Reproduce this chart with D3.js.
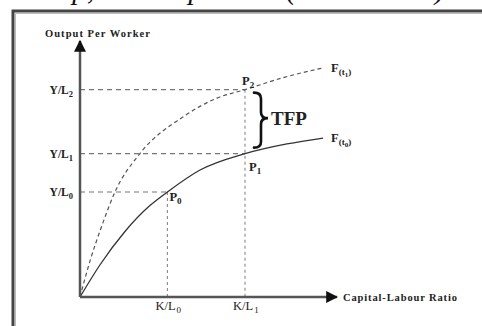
<!DOCTYPE html>
<html>
<head>
<meta charset="utf-8">
<script src="https://cdn.jsdelivr.net/npm/d3@7"></script>
<style>
  html, body { margin: 0; padding: 0; background: #fff; }
  svg { display: block; font-family: "Liberation Serif", "Times New Roman", serif; }
</style>
</head>
<body>
<div id="chart"></div>
<script>
// capital-labour ratio (x) and output per worker (y)
var curveT0K = [0, 0.78, 1.75, 2.72, 3.4, 4.67, 6.42, 8.05, 9.46];
var curveT0Y = [0, 1.26, 2.56, 3.57, 4.1, 4.96, 5.6, 5.98, 6.21];
var curveT1K = [0, 0.39, 0.86, 1.36, 2.33, 4.0, 5.33, 6.42, 7.98, 9.46];
var curveT1Y = [0, 1.41, 2.81, 4.1, 5.6, 7.03, 7.77, 8.1, 8.59, 8.95];

var kTicks = [3.4, 6.42];
var kSubs = ["0", "1"];
var yTicks = [4.1, 5.6, 8.1];
var ySubs = ["0", "1", "2"];

var pointNames = ["0", "1", "2"];
var pointK = [3.4, 6.42, 6.42];
var pointY = [4.1, 5.6, 8.1];

var width = 482, height = 326;
var x = d3.scaleLinear().domain([0, 10]).range([80, 337]);
var y = d3.scaleLinear().domain([0, 10]).range([297, 41]);

var svg = d3.select("#chart").append("svg")
  .attr("width", width)
  .attr("height", height);

// bit of the page text above the figure, mostly cut off
svg.append("text")
  .attr("x", -6).attr("y", -1)
  .attr("font-size", 29)
  .attr("font-style", "italic")
  .attr("fill", "#111")
  .attr("textLength", 458)
  .text("al setup, ceteris paribus (Solow 1957).");

// frame of the figure
svg.append("path")
  .attr("d", "M13,326V11H482")
  .attr("fill", "none")
  .attr("stroke", "#444")
  .attr("stroke-width", 3);
svg.append("path")
  .attr("d", "M15.5,326V13.5H482")
  .attr("fill", "none")
  .attr("stroke", "#bbb")
  .attr("stroke-width", 1);

var defs = svg.append("defs");
defs.append("marker")
  .attr("id", "arrow")
  .attr("viewBox", "0 0 10 10")
  .attr("refX", 9).attr("refY", 5)
  .attr("markerWidth", 12).attr("markerHeight", 12)
  .attr("markerUnits", "userSpaceOnUse")
  .attr("orient", "auto")
  .append("path")
  .attr("d", "M0,0L10,5L0,10z")
  .attr("fill", "#111");

// guide lines
var guides = svg.append("g");
guides.selectAll(".hguide")
  .data(d3.range(pointK.length))
  .enter().append("line")
  .attr("x1", x(0))
  .attr("x2", function(i) { return x(pointK[i]); })
  .attr("y1", function(i) { return y(pointY[i]); })
  .attr("y2", function(i) { return y(pointY[i]); })
  .attr("stroke", "#777")
  .attr("stroke-width", 1.1)
  .attr("stroke-dasharray", "5,4");

guides.selectAll(".vguide")
  .data([0, 2])
  .enter().append("line")
  .attr("x1", function(i) { return x(pointK[i]); })
  .attr("x2", function(i) { return x(pointK[i]); })
  .attr("y1", function(i) { return y(pointY[i]); })
  .attr("y2", y(0))
  .attr("stroke", "#888")
  .attr("stroke-width", 1.1)
  .attr("stroke-dasharray", "3,3");

// production functions
var line = d3.line()
  .x(function(d) { return x(d[0]); })
  .y(function(d) { return y(d[1]); })
  .curve(d3.curveMonotoneX);

svg.append("path")
  .datum(d3.zip(curveT0K, curveT0Y))
  .attr("d", line)
  .attr("fill", "none")
  .attr("stroke", "#333")
  .attr("stroke-width", 1.3);

svg.append("path")
  .datum(d3.zip(curveT1K, curveT1Y))
  .attr("d", line)
  .attr("fill", "none")
  .attr("stroke", "#555")
  .attr("stroke-width", 1.2)
  .attr("stroke-dasharray", "4,3");

// axes
svg.append("line")
  .attr("x1", x(0)).attr("y1", y(0))
  .attr("x2", x(0)).attr("y2", y(10))
  .attr("stroke", "#555").attr("stroke-width", 2.5)
  .attr("marker-end", "url(#arrow)");
svg.append("line")
  .attr("x1", x(0)).attr("y1", y(0))
  .attr("x2", x(10)).attr("y2", y(0))
  .attr("stroke", "#555").attr("stroke-width", 2.5)
  .attr("marker-end", "url(#arrow)");

svg.append("text")
  .attr("x", 45).attr("y", 37)
  .attr("font-size", 10.5).attr("font-weight", "bold").attr("fill", "#222")
  .attr("textLength", 105)
  .text("Output Per Worker");

svg.append("text")
  .attr("x", 343).attr("y", 301)
  .attr("font-size", 10.5).attr("font-weight", "bold").attr("fill", "#222")
  .attr("textLength", 114)
  .text("Capital-Labour Ratio");

// y tick labels
var yl = svg.append("g").selectAll("text")
  .data(yTicks)
  .enter().append("text")
  .attr("x", 73)
  .attr("y", function(d) { return y(d) + 4; })
  .attr("text-anchor", "end")
  .attr("font-size", 11.5).attr("font-weight", "bold").attr("fill", "#222");
yl.append("tspan").text("Y/L");
yl.append("tspan")
  .attr("font-size", 8.5).attr("dy", 3)
  .text(function(d, i) { return ySubs[i]; });

// x tick labels
var xl = svg.append("g").selectAll("text")
  .data(kTicks)
  .enter().append("text")
  .attr("x", function(d) { return x(d) - 12; })
  .attr("y", 310)
  .attr("font-size", 12.5).attr("fill", "#222");
xl.append("tspan").text("K/L");
xl.append("tspan")
  .attr("font-size", 9).attr("dy", 3).attr("dx", 1)
  .text(function(d, i) { return kSubs[i]; });

// point labels
var pOffsets = [[2, 9], [4, 17], [-3, -5]];
var pl = svg.append("g").selectAll("text")
  .data(d3.range(pointK.length))
  .enter().append("text")
  .attr("x", function(i) { return x(pointK[i]) + pOffsets[i][0]; })
  .attr("y", function(i) { return y(pointY[i]) + pOffsets[i][1]; })
  .attr("font-size", 12.5).attr("font-weight", "bold").attr("fill", "#222");
pl.append("tspan").text("P");
pl.append("tspan")
  .attr("font-size", 9).attr("dy", 3)
  .text(function(i) { return pointNames[i]; });

// curve labels
var curveLabels = [
  {k: curveT1K[curveT1K.length - 1], v: curveT1Y[curveT1Y.length - 1], sub: "1"},
  {k: curveT0K[curveT0K.length - 1], v: curveT0Y[curveT0Y.length - 1], sub: "0"}
];
var fl = svg.append("g").selectAll("text")
  .data(curveLabels)
  .enter().append("text")
  .attr("x", function(d) { return x(d.k) + 8; })
  .attr("y", function(d) { return y(d.v) + 4; })
  .attr("font-size", 12.5).attr("font-weight", "bold").attr("fill", "#222");
fl.append("tspan").text("F");
fl.append("tspan").attr("font-size", 9).attr("dy", 3).text("(t");
fl.append("tspan").attr("font-size", 7).attr("dy", 2).text(function(d) { return d.sub; });
fl.append("tspan").attr("font-size", 9).attr("dy", -2).text(")");

// brace between the two curves at K/L1
var bx = x(kTicks[1]) + 9;
var bTop = y(yTicks[2]) + 3;
var bBot = y(yTicks[1]) - 6;
var bMid = (bTop + bBot) / 2 - 2;
var bw = 14, r = 6;
var mx = bx + bw / 2;
svg.append("path")
  .attr("d",
    "M" + bx + "," + bTop +
    "Q" + mx + "," + bTop + " " + mx + "," + (bTop + r) +
    "L" + mx + "," + (bMid - r) +
    "Q" + mx + "," + bMid + " " + (bx + bw) + "," + bMid +
    "Q" + mx + "," + bMid + " " + mx + "," + (bMid + r) +
    "L" + mx + "," + (bBot - r) +
    "Q" + mx + "," + bBot + " " + bx + "," + bBot)
  .attr("fill", "none")
  .attr("stroke", "#111")
  .attr("stroke-width", 2.6)
  .attr("stroke-linecap", "round");

svg.append("text")
  .attr("x", bx + bw + 3).attr("y", bMid + 7)
  .attr("font-size", 19).attr("font-weight", "bold").attr("fill", "#222")
  .text("TFP");
</script>
</body>
</html>
